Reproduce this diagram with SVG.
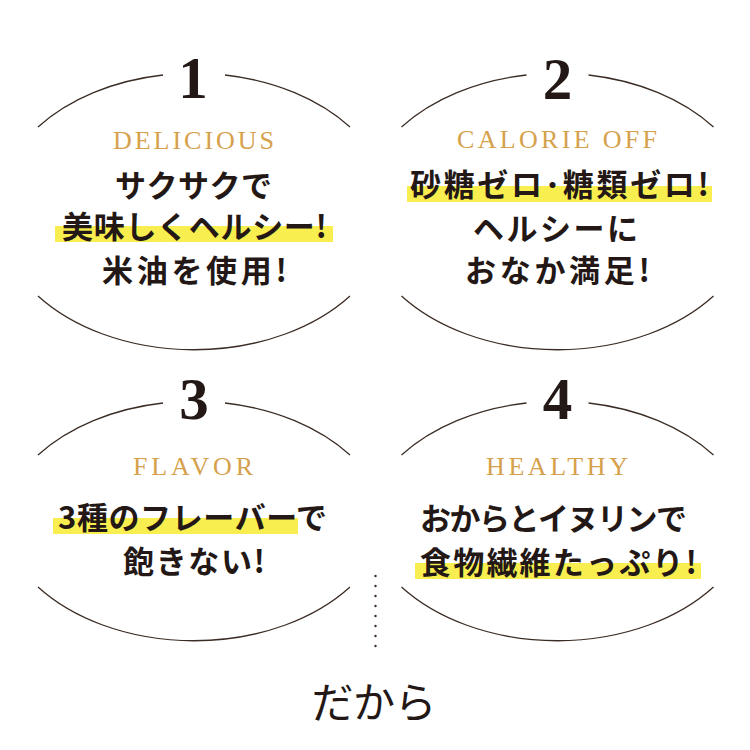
<svg xmlns="http://www.w3.org/2000/svg" width="750" height="750" viewBox="0 0 750 750">
<style>
.arc{fill:none;stroke:#3b2c24;stroke-width:1.3}
.num{font-family:"Liberation Serif","DejaVu Serif",serif;font-weight:bold;font-size:59px;fill:#231815;text-anchor:middle}
.en{font-family:"Liberation Serif","DejaVu Serif",serif;font-size:26px;fill:#d6a14c}
.jp{font-family:"Noto Sans CJK JP",sans-serif;font-weight:700;font-size:31px;fill:#231815}
.hl{fill:#f8ee4f}
.dot{fill:#3b2c24}
.dakara{font-family:"Noto Sans CJK JP",sans-serif;font-weight:400;font-size:42px;fill:#231815}
</style>
<rect width="750" height="750" fill="#ffffff"/>
<g id="connectors">
  <g id="dots">
    <circle class="dot" cx="375.5" cy="576" r="1.2"/>
    <circle class="dot" cx="375.5" cy="586" r="1.2"/>
    <circle class="dot" cx="375.5" cy="596" r="1.2"/>
    <circle class="dot" cx="375.5" cy="606" r="1.2"/>
    <circle class="dot" cx="375.5" cy="616" r="1.2"/>
    <circle class="dot" cx="375.5" cy="626" r="1.2"/>
    <circle class="dot" cx="375.5" cy="636" r="1.2"/>
    <circle class="dot" cx="375.5" cy="646" r="1.2"/>
  </g>
</g>
<g id="node1">
  <path class="arc" d="M38,127 A197,138 0 0,1 163,75 M225,75 A197,138 0 0,1 350,127"/>
  <path class="arc" d="M38,296 A197,138 0 0,0 350,296"/>
  <text class="num" x="193" y="98">1</text>
  <text class="en" x="113" y="149" textLength="161" lengthAdjust="spacing">DELICIOUS</text>
  <rect class="hl" x="55" y="226" width="278" height="16"/>
  <text class="jp" x="115" y="197" textLength="157" lengthAdjust="spacing">サクサクで</text>
  <text class="jp" x="62" y="238" textLength="265" lengthAdjust="spacing">美味しくヘルシー!</text>
  <text class="jp" x="102" y="282" textLength="185" lengthAdjust="spacing">米油を使用!</text>
</g>
<g id="node2">
  <path class="arc" d="M401.5,127 A197,138 0 0,1 526.5,75 M588.5,75 A197,138 0 0,1 713.5,127"/>
  <path class="arc" d="M401.5,296 A197,138 0 0,0 713.5,296"/>
  <text class="num" x="557.5" y="99">2</text>
  <text class="en" x="457" y="148" textLength="200" lengthAdjust="spacing">CALORIE OFF</text>
  <rect class="hl" x="407" y="186" width="305" height="16"/>
  <text class="jp" x="410" y="196" textLength="299" lengthAdjust="spacing">砂糖ゼロ･糖類ゼロ!</text>
  <text class="jp" x="473" y="240" textLength="165" lengthAdjust="spacing">ヘルシーに</text>
  <text class="jp" x="465" y="282" textLength="185" lengthAdjust="spacing">おなか満足!</text>
</g>
<g id="node3">
  <path class="arc" d="M38,455 A197,138 0 0,1 163,403 M225,403 A197,138 0 0,1 350,455"/>
  <path class="arc" d="M38,587 A197,138 0 0,0 350,587"/>
  <text class="num" x="194" y="419">3</text>
  <text class="en" x="133" y="475" textLength="120" lengthAdjust="spacing">FLAVOR</text>
  <rect class="hl" x="53" y="518" width="245" height="16"/>
  <text class="jp" x="58" y="529" textLength="269" lengthAdjust="spacing">3種のフレーバーで</text>
  <text class="jp" x="123" y="573" textLength="142" lengthAdjust="spacing">飽きない!</text>
</g>
<g id="node4">
  <path class="arc" d="M401.5,455 A197,138 0 0,1 526.5,403 M588.5,403 A197,138 0 0,1 713.5,455"/>
  <path class="arc" d="M401.5,587 A197,138 0 0,0 713.5,587"/>
  <text class="num" x="557.5" y="419">4</text>
  <text class="en" x="486" y="475" textLength="142" lengthAdjust="spacing">HEALTHY</text>
  <rect class="hl" x="415" y="563" width="286" height="16"/>
  <text class="jp" x="420" y="530" textLength="267" lengthAdjust="spacing">おからとイヌリンで</text>
  <text class="jp" x="420" y="574" textLength="277" lengthAdjust="spacing">食物繊維たっぷり!</text>
</g>
<g id="dakara">
  <text class="dakara" x="374" y="718" text-anchor="middle" textLength="125" lengthAdjust="spacing">だから</text>
</g>
</svg>
